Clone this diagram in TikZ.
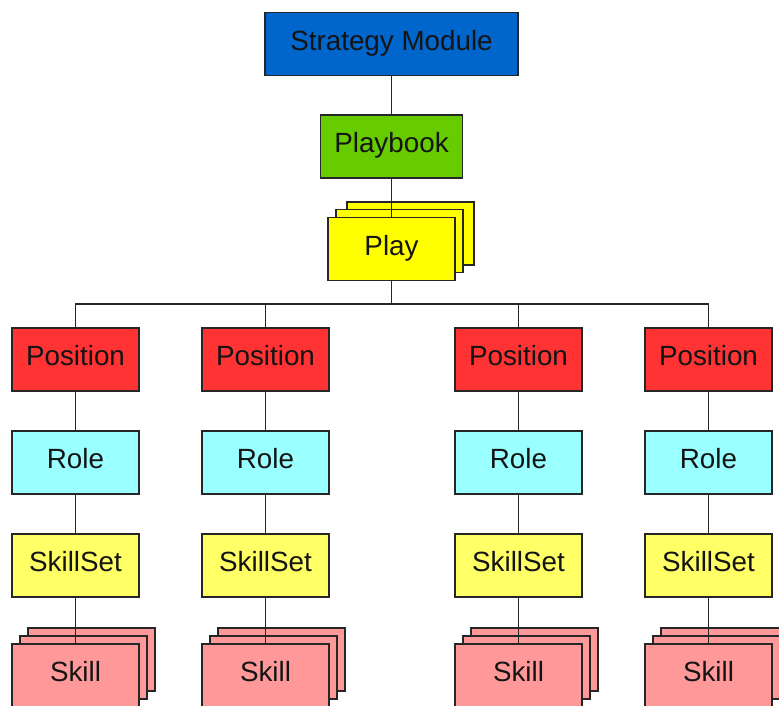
\documentclass[tikz,border=0pt]{standalone}
\usepackage{fontspec}
\setmainfont{Liberation Sans}
\begin{document}
\begin{tikzpicture}[x=1pt,y=-1pt,
  box/.style={draw=black!85,line width=1.4pt,minimum width=127pt,minimum height=63pt,inner sep=0pt,text height=20pt,text depth=7.6pt,font=\fontsize{27.8}{32}\selectfont,text=black!92},
  conn/.style={draw=black!85,line width=1.4pt}]
\definecolor{cblue}{RGB}{0,102,204}
\definecolor{cgreen}{RGB}{102,204,0}
\definecolor{cred}{RGB}{255,51,51}
\definecolor{ccyan}{RGB}{153,255,255}
\definecolor{cyel}{RGB}{255,255,102}
\definecolor{cplay}{RGB}{255,255,0}
\definecolor{cpink}{RGB}{255,153,153}
\clip (0,0) rectangle (779,706);
\fill[white] (0,0) rectangle (779,706);
% top
\node[box,fill=cblue,minimum width=253pt] (sm) at (391.5,44) {Strategy Module};
\node[box,fill=cgreen,minimum width=142pt] (pb) at (391.5,146.5) {Playbook};
\node[box,fill=cplay] (playc) at (410.5,233.5) {};
\node[box,fill=cplay] (playb) at (399.5,241) {};
\node[box,fill=cplay] (play) at (391.5,249) {Play};
\coordinate (bus) at (391.5,304);
% columns
\foreach \i/\x in {1/75.5,2/265.5,3/518.5,4/708.5}{
  \node[box,fill=cred] (pos\i) at (\x,359.5) {Position};
  \node[box,fill=ccyan] (role\i) at (\x,462.5) {Role};
  \node[box,fill=cyel] (ss\i) at (\x,565.5) {SkillSet};
  \node[box,fill=cpink] (skc\i) at (\x+16,659.5) {};
  \node[box,fill=cpink] (skb\i) at (\x+8,667.5) {};
  \node[box,fill=cpink] (sk\i) at (\x,675.5) {Skill};
}
% connectors
\draw[conn] (sm) -- (pb);
\draw[conn] (pb) -- (play);
\draw[conn] (play) -- (bus);
\draw[conn] (pos1.north) |- (bus) -| (pos4.north);
\draw[conn] (pos2.north) -- (pos2.north |- bus);
\draw[conn] (pos3.north) -- (pos3.north |- bus);
\foreach \i in {1,2,3,4}{
  \draw[conn] (pos\i) -- (role\i);
  \draw[conn] (role\i) -- (ss\i);
  \draw[conn] (ss\i) -- (sk\i);
}
\end{tikzpicture}
\end{document}
